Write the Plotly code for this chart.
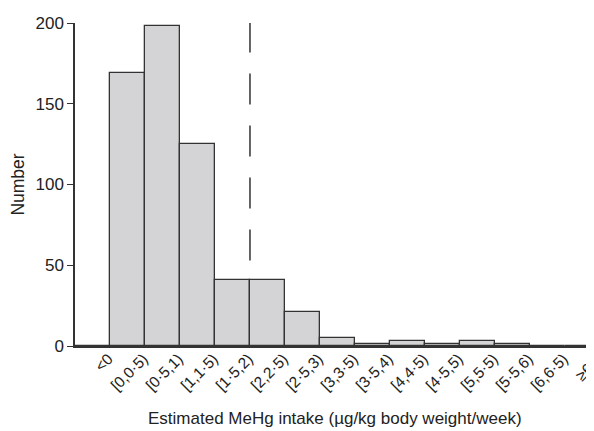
import plotly.graph_objects as go

categories = ["<0", "[0,0·5)", "[0·5,1)", "[1,1·5)", "[1·5,2)", "[2,2·5)", "[2·5,3)",
              "[3,3·5)", "[3·5,4)", "[4,4·5)", "[4·5,5)", "[5,5·5)", "[5·5,6)", "[6,6·5)", "≥6·5"]
counts = [0, 169, 198, 125, 41, 41, 21, 5, 1, 3, 1, 3, 1, 0, 0]
y_ticks = [0, 50, 100, 150, 200]
threshold_x = 4.5  # boundary at 2 µg/kg bw/week
threshold_y = [53, 200]
x_title = "Estimated MeHg intake (µg/kg body weight/week)"

idx = list(range(len(categories)))

fig = go.Figure()
fig.add_trace(go.Bar(
    x=idx, y=counts, width=1,
    marker=dict(color="#d4d4d6", line=dict(color="#333333", width=1.3)),
    showlegend=False,
))
fig.add_trace(go.Scatter(
    x=[threshold_x, threshold_x], y=threshold_y, mode="lines",
    line=dict(color="#333333", width=1.5, dash="31px,21px"),
    showlegend=False, hoverinfo="skip",
))

font = "Liberation Sans, Arial, sans-serif"
fig.update_layout(
    width=594, height=431,
    margin=dict(l=67, r=8, t=15, b=93),
    plot_bgcolor="white", paper_bgcolor="white",
    bargap=0,
    font=dict(family=font, color="#222222", size=15),
    xaxis=dict(
        range=[-0.5, 14.33], automargin=False,
        tickmode="array", tickvals=idx, ticktext=categories,
        tickangle=-45, tickfont=dict(size=15.5), ticklabelstandoff=-4,
        ticklabelshift=16, ticklabeloverflow="allow",
        showline=True, linecolor="#333333", linewidth=1.5,
        ticks="", showgrid=False, zeroline=False,
    ),
    yaxis=dict(
        range=[0, 200], automargin=False,
        tickmode="array", tickvals=y_ticks,
        showline=True, linecolor="#333333", linewidth=1.5,
        ticks="outside", ticklen=6, tickcolor="#333333", ticklabelstandoff=0,
        showgrid=False, zeroline=False, tickfont=dict(size=17),
        title=dict(text="Number", font=dict(size=17.5), standoff=6),
    ),
    annotations=[dict(
        text=x_title, xref="paper", yref="paper", x=0.5, y=-0.226,
        xanchor="center", yanchor="middle", showarrow=False,
        font=dict(size=17, family=font, color="#222222"),
    )],
)

fig.write_html("out.html")
